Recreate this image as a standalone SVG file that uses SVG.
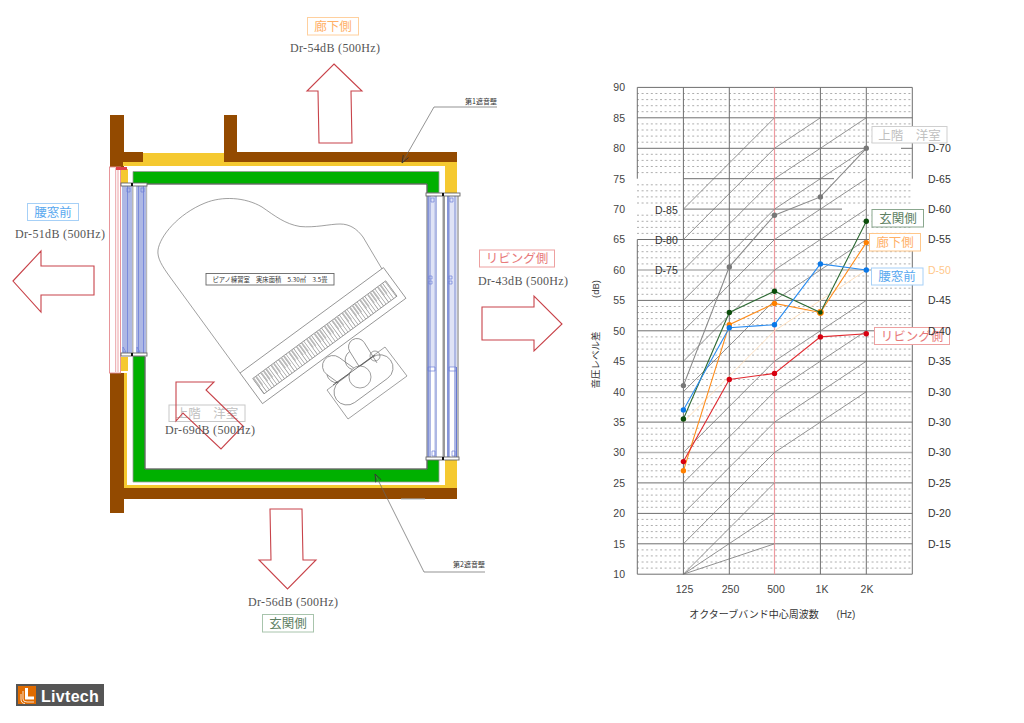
<svg xmlns="http://www.w3.org/2000/svg" width="1024" height="723" viewBox="0 0 1024 723">
<style>
text{font-family:"Noto Sans CJK JP","Liberation Sans",sans-serif}
.dr{font-family:"Liberation Serif",serif;font-size:12px;fill:#555}
.ax{font-family:"Liberation Sans",sans-serif;font-size:10.5px;fill:#444}
.ds{font-family:"Liberation Sans",sans-serif;font-size:10.5px;fill:#333}
.tag{font-size:12.5px;text-anchor:middle}
.note{font-size:7px;fill:#333}
.arrow{fill:#fff;stroke:#c8434a;stroke-width:1.1}
.brown{fill:#934a00}
.yellow{fill:#f5c930}
.green{fill:#00b000;stroke:#999;stroke-width:.8}
.glass{fill:#aeb8e4}
.blueln{stroke:#6d7fd8;stroke-width:.7;fill:none}
.cap{fill:#fff;stroke:#666;stroke-width:.9}
.grey{fill:#b8b8b8}
.pn{fill:none;stroke:#777;stroke-width:.7}
.pw{fill:#fff;stroke:#777;stroke-width:.7}
.lead{fill:none;stroke:#666;stroke-width:.7}
.gr{stroke:#6e6e6e;stroke-width:1;fill:none}
.grl{stroke:#b5b5b5;stroke-width:1.4;fill:none}
.dot{stroke:#999;stroke-width:.8;stroke-dasharray:2 2.600;fill:none}
.dg{stroke:#777;stroke-width:.8;fill:none}
.ser{fill:none;stroke-width:1.1}
</style>
<defs>
<marker id="ah" markerWidth="9" markerHeight="8" refX="8" refY="3.5" orient="auto" markerUnits="userSpaceOnUse"><path d="M0,0.5 L8,3.5 L0,6.5" fill="none" stroke="#333" stroke-width=".8"/></marker>
</defs>
<rect width="1024" height="723" fill="#fff"/>

<g id="building">
<rect class="brown" x="110" y="115" width="14" height="52"/>
<rect class="brown" x="124" y="152" width="19" height="10"/>
<rect class="yellow" x="123" y="162" width="334" height="4"/>
<rect class="yellow" x="143" y="153" width="81" height="10"/>
<rect class="brown" x="224" y="115" width="13" height="47"/>
<rect class="brown" x="237" y="152" width="220" height="10"/>
<rect class="yellow" x="445" y="162" width="12" height="31"/>
<rect class="yellow" x="121" y="169" width="7" height="14"/>
<rect class="yellow" x="121" y="357" width="7" height="14"/>
<rect class="yellow" x="124" y="373" width="3" height="113"/>
<rect class="yellow" x="124" y="485" width="333" height="3"/>
<rect class="yellow" x="445" y="460" width="12" height="26"/>
<rect class="brown" x="110" y="373" width="14" height="140"/>
<rect class="brown" x="110" y="488" width="347" height="11"/>
<path class="green" d="M133,171.500H439V193H427V184H133Z"/>
<path class="green" d="M133,356H145V469H427V458H439V482H133Z"/>
<path d="M145,357V469H427V459" fill="none" stroke="#555" stroke-width="1"/>
<path d="M133,184H427V193" fill="none" stroke="#555" stroke-width="1"/>
<path d="M401,499H425" stroke="#a8b8c8" stroke-width="1"/>
</g>

<g id="window-left">
<rect x="109.500" y="167" width="11" height="206" fill="#fff" stroke="#e58a90" stroke-width=".9"/>
<path d="M115.700,168V372M118,168V372" stroke="#e58a90" stroke-width=".8"/>
<rect x="116" y="167" width="11" height="3" fill="#e0404a"/>
<rect class="glass" x="122" y="186" width="10" height="167"/>
<rect class="glass" x="136" y="186" width="10" height="167"/>
<rect class="grey" x="132" y="186" width="1.500" height="167"/>
<rect class="grey" x="146" y="186" width="1.200" height="167"/>
<path d="M127.500,186V353M138.500,186V353M143.500,186V353" stroke="#6d7fd8" stroke-width=".8"/>
<path class="blueln" d="M127,188v4h3v-4zM141,188v4h3v-4zM123,352v-5l3,5zM137,352v-5l3,5z"/>
<rect class="cap" x="121" y="183" width="26" height="3"/>
<rect class="cap" x="121" y="353" width="26" height="3"/>
<rect x="131" y="183" width="2" height="3" fill="#111"/>
<rect x="131" y="353" width="2" height="3" fill="#111"/>
</g>

<g id="window-right">
<rect class="grey" x="426" y="196" width="2" height="261"/>
<rect class="glass" x="428" y="196" width="9" height="261"/>
<rect x="431" y="367" width="3.500" height="90" fill="#fff"/>
<rect x="431" y="196" width="3.500" height="171" fill="#dfe3f6"/>
<rect x="442.500" y="196" width="2.500" height="261" fill="#999"/>
<rect class="glass" x="447" y="196" width="9.500" height="261"/>
<rect x="450" y="367" width="4" height="90" fill="#fff"/>
<rect x="450" y="196" width="4" height="171" fill="#dfe3f6"/>
<rect class="grey" x="457" y="196" width="2" height="261"/>
<path d="M428,196V457M448,196V457M456.500,367V457" stroke="#4a5fc8" stroke-width=".8"/>
<path class="blueln" d="M429,276h3v3h-3zM429,281h3v3h-3zM449,276h3v3h-3zM449,281h3v3h-3zM428,367h7v4h-7zM449,367h7v4h-7zM431,198v4h3v-4zM450,198v4h3v-4zM432,456v-5h3v5zM452,456v-5h3v5z"/>
<rect class="cap" x="426" y="193" width="34" height="3"/>
<rect class="cap" x="426" y="457" width="33" height="3"/>
<rect x="442" y="193" width="2" height="3" fill="#111"/>
<rect x="442" y="457" width="2" height="3" fill="#111"/>
</g>

<g id="piano">
<path class="pn" d="M240,373L170,277C162,266 157,258 158,250C160,236 178,214 205,203C222,196 245,197 262,207C275,216 285,224 300,226.500C315,228 330,224 340,224C350,224 357,229 363,237L382,269"/>
<g transform="translate(240,373) rotate(-36.300)">
<rect class="pn" x="0" y="0" width="178" height="38"/>
<rect class="pn" x="7" y="12" width="165" height="19"/>
<line x1="7" y1="21.500" x2="172" y2="21.500" stroke="#8a8a8a" stroke-width="19" stroke-dasharray=".6 2.550"/>
<line x1="7" y1="17.500" x2="172" y2="17.500" stroke="#bbb" stroke-width="11" stroke-dasharray="1.600 1.550 1.600 4.700 1.600 1.550 1.600 1.550 1.600 4.700"/>
</g>
<polygon class="pn" points="385,347 407,376 348,419 327,390"/>
<g transform="translate(347,392) rotate(-36.300)"><path class="pn" d="M0,-13H41A13,13 0 0 1 41,13H0A13,13 0 0 1 0,-13Z"/></g>
<circle class="pn" cx="375" cy="356" r="5"/>
<g transform="translate(333,366) rotate(36)"><path class="pn" d="M0,-10.500H22M0,10.500H14A10.500,10.500 0 0 1 0,10.500A10.500,10.500 0 0 1 0,-10.500"/></g>
<g transform="translate(357,347) rotate(58)"><path class="pn" d="M0,-8.500H24M0,8.500H20A8.500,8.500 0 0 1 0,8.500A8.500,8.500 0 0 1 0,-8.500"/></g>
<circle class="pw" cx="360" cy="377" r="11"/>
<path class="pn" d="M333,385L375,355" style="stroke:#444"/>
</g>

<g id="room-label">
<rect x="206" y="273.500" width="128" height="11.500" fill="#fff" stroke="#666" stroke-width=".9"/>
<text x="270" y="282" text-anchor="middle" font-size="6.300" fill="#333">ピアノ練習室　実床面積　5.30㎡　3.5畳</text>
</g>

<g id="connectors">
<polyline class="lead" points="497,107 434,107 402,163" marker-end="url(#ah)"/>
<polyline class="lead" points="485,572 424,572 375,474" marker-end="url(#ah)"/>
</g>
<g id="note-wall1"><text class="note" x="465" y="103.500">第1遮音壁</text></g>
<g id="note-wall2"><text class="note" x="453" y="567">第2遮音壁</text></g>

<g id="side-corridor">
<rect x="307.500" y="17.500" width="51" height="17.500" fill="#fff" stroke="#ffd09e"/>
<text class="tag" x="333" y="31" fill="#ffb066">廊下側</text>
<text class="dr" x="290" y="52" textLength="90">Dr-54dB (500Hz)</text>
<polygon class="arrow" points="334,64 362,91 351,91 352,143 319,143 318,91 307,91"/>
</g>
<g id="side-window">
<rect x="27.500" y="203.500" width="51" height="17" fill="#fff" stroke="#a6d0f7"/>
<text class="tag" x="53" y="217" fill="#5aa9ef">腰窓前</text>
<text class="dr" x="15" y="238" textLength="90">Dr-51dB (500Hz)</text>
<polygon class="arrow" points="13,281 41,251 41,266 94,266 94,295 41,295 41,312"/>
</g>
<g id="side-living">
<rect x="479.500" y="250" width="75" height="17" fill="#fff" stroke="#eda0a0"/>
<text class="tag" x="517" y="263" fill="#e87a7a">リビング側</text>
<text class="dr" x="478" y="285" textLength="90">Dr-43dB (500Hz)</text>
<polygon class="arrow" points="482,307 534,307 534,296 562,324 534,351 534,340 482,340"/>
</g>
<g id="side-entrance">
<polygon class="arrow" points="270,509 302,509 303,560 316,560 287.500,589 259,560 271,560"/>
<text class="dr" x="248" y="606" textLength="90">Dr-56dB (500Hz)</text>
<rect x="262.500" y="614.500" width="51" height="17.500" fill="#fff" stroke="#a8c4ac"/>
<text class="tag" x="288" y="628" fill="#5d7f62">玄関側</text>
</g>
<g id="side-upstairs">
<rect x="169" y="405" width="76" height="16.500" fill="#fff" stroke="#c8c8c8"/>
<text class="tag" x="207" y="418" fill="#c0c0c0">上階　洋室</text>
<polygon class="arrow" points="176,382 214,382 206,390 243,426 221,449 183,413 176,421" style="fill:none"/>
<text class="dr" x="165" y="434" textLength="90">Dr-69dB (500Hz)</text>
</g>

<g id="chart-grid">
<path class="dot" d="M637,93.500H912M637,99.600H912M637,105.700H912M637,111.700H912M637,123.900H912M637,130H912M637,136.100H912M637,142.200H912M637,154.300H912M637,160.400H912M637,166.500H912M637,172.600H912M637,184.800H912M637,190.800H912M637,196.900H912M637,203H912M637,215.200H912M637,221.300H912M637,227.400H912M637,233.400H912M637,245.600H912M637,251.700H912M637,257.800H912M637,263.900H912M637,276H912M637,282.100H912M637,288.200H912M637,294.300H912M637,306.500H912M637,312.500H912M637,318.600H912M637,324.700H912M637,336.900H912M637,343H912M637,349.100H912M637,355.100H912M637,367.300H912M637,373.400H912M637,379.500H912M637,385.600H912M637,397.700H912M637,403.800H912M637,409.900H912M637,416H912M637,428.200H912M637,434.200H912M637,440.300H912M637,446.400H912M637,458.600H912M637,464.700H912M637,470.800H912M637,476.800H912M637,489H912M637,495.100H912M637,501.200H912M637,507.300H912M637,519.400H912M637,525.500H912M637,531.600H912M637,537.700H912M637,549.900H912M637,555.900H912M637,562H912M637,568.100H912"/>
<path class="gr" d="M637.300,87.400H912.300M637.300,117.800H912.300M637.300,148.300H866.300M901,148.300H912.300M683.400,178.700H834M683.400,209.100H842M637.300,239.500H912.300M637.300,300.400H912.300M637.300,330.800H912.300M637.300,361.200H912.300M637.300,422.100H912.300M637.300,482.900H912.300M637.300,513.400H912.300M637.300,543.800H912.300M637.300,574.200H912.300"/>
<path class="grl" d="M637.300,270H912.300M637.300,391.700H912.300M637.300,452.500H912.300"/>
<path class="gr" d="M637.300,87.400V178.700M637.300,239.500V574.200M683.400,87.400V574.200M729.300,87.400V574.200M820.400,87.400V574.200M866.300,87.400V574.200M912.300,87.400V178.700M912.300,239.500V574.200"/>
<path d="M774.500,87.400V574.200" stroke="#ee9a9f" stroke-width="1.200"/>
<path class="dg" d="M683.400,209.100L774.500,117.800M683.400,239.500L774.500,148.300L820.400,117.800M683.400,270L774.500,178.700L820.400,148.300L866.300,117.800M683.400,300.400L774.500,209.100L820.400,178.700L866.300,148.300M683.400,330.800L774.500,239.500L820.400,209.100L866.300,178.700M683.400,361.200L774.500,270L820.400,239.500L866.300,209.100M683.400,391.700L774.500,300.400L820.400,270L866.300,239.500M683.400,452.500L774.500,361.200L820.400,330.800L866.300,300.400M683.400,482.900L774.500,391.700L820.400,361.200L866.300,330.800M683.400,513.400L774.500,422.100L820.400,391.700L866.300,361.200M683.400,543.800L774.500,452.500L820.400,422.100L866.300,391.700M683.400,574.200L774.500,482.900M683.400,574.200L774.500,513.400M683.400,574.200L774.500,543.800"/>
<path d="M683.400,422.100L774.500,330.800L820.400,300.400L866.300,270" fill="none" stroke="#ffd9b0" stroke-width=".8"/>
</g>

<g id="chart-axis">
<g text-anchor="end">
<text class="ax" x="625" y="91">90</text><text class="ax" x="625" y="121.500">85</text><text class="ax" x="625" y="152">80</text><text class="ax" x="625" y="182.500">75</text><text class="ax" x="625" y="213">70</text><text class="ax" x="625" y="243">65</text><text class="ax" x="625" y="274">60</text><text class="ax" x="625" y="304">55</text><text class="ax" x="625" y="334.500">50</text><text class="ax" x="625" y="365">45</text><text class="ax" x="625" y="395.500">40</text><text class="ax" x="625" y="426">35</text><text class="ax" x="625" y="456">30</text><text class="ax" x="625" y="486.500">25</text><text class="ax" x="625" y="517">20</text><text class="ax" x="625" y="547.500">15</text><text class="ax" x="625" y="578">10</text>
</g>
<g text-anchor="middle">
<text class="ax" x="684.500" y="593">125</text><text class="ax" x="730.500" y="593">250</text><text class="ax" x="776" y="593">500</text><text class="ax" x="822" y="593">1K</text><text class="ax" x="867" y="593">2K</text>
</g>
<text x="754" y="618" font-size="10" text-anchor="middle" fill="#333">オクターブバンド中心周波数</text>
<text class="ax" x="846" y="618" text-anchor="middle" style="font-size:10px">(Hz)</text>
<text transform="translate(598.500,360) rotate(-90)" font-size="9.500" text-anchor="middle" fill="#333">音圧レベル差</text>
<text class="ax" transform="translate(598.500,289) rotate(-90)" text-anchor="middle" style="font-size:9.500px">(dB)</text>
</g>

<g id="series-upstairs">
<polyline class="ser" stroke="#8a8a8a" points="683.400,385.600 729.300,266.900 774.500,215.200 820.400,196.900 866.300,148.300"/>
<g fill="#777"><circle cx="683.400" cy="385.600" r="2.700"/><circle cx="729.300" cy="266.900" r="2.700"/><circle cx="774.500" cy="215.200" r="2.700"/><circle cx="820.400" cy="196.900" r="2.700"/><circle cx="866.300" cy="148.300" r="2.700"/></g>
</g>
<g id="series-corridor">
<polyline class="ser" stroke="#ff8c1a" points="683.400,470.800 729.300,324.700 774.500,303.400 820.400,312.500 866.300,242.600"/>
<g fill="#ff8000"><circle cx="683.400" cy="470.800" r="2.700"/><circle cx="729.300" cy="324.700" r="2.700"/><circle cx="774.500" cy="303.400" r="2.700"/><circle cx="820.400" cy="312.500" r="3.400"/><circle cx="866.300" cy="242.600" r="2.700"/></g>
</g>
<g id="series-entrance">
<polyline class="ser" stroke="#2f6b35" points="683.400,419 729.300,312.500 774.500,291.200 820.400,312.500 866.300,221.300"/>
<g fill="#0b4d0b"><circle cx="683.400" cy="419" r="2.700"/><circle cx="729.300" cy="312.500" r="2.700"/><circle cx="774.500" cy="291.200" r="2.700"/><circle cx="820.400" cy="312.500" r="2.300"/><circle cx="866.300" cy="221.300" r="2.700"/></g>
</g>
<g id="series-window">
<polyline class="ser" stroke="#2a8cf0" points="683.400,409.900 729.300,327.800 774.500,324.700 820.400,263.900 866.300,270"/>
<g fill="#0a78e8"><circle cx="683.400" cy="409.900" r="2.700"/><circle cx="729.300" cy="327.800" r="2.700"/><circle cx="774.500" cy="324.700" r="2.700"/><circle cx="820.400" cy="263.900" r="2.700"/><circle cx="866.300" cy="270" r="2.700"/></g>
</g>
<g id="series-living">
<polyline class="ser" stroke="#e02a30" points="683.400,461.600 729.300,379.500 774.500,373.400 820.400,336.900 866.300,333.800"/>
<g fill="#d80010"><circle cx="683.400" cy="461.600" r="2.700"/><circle cx="729.300" cy="379.500" r="2.700"/><circle cx="774.500" cy="373.400" r="2.700"/><circle cx="820.400" cy="336.900" r="2.700"/><circle cx="866.300" cy="333.800" r="2.700"/></g>
</g>

<g id="chart-tags">
<rect x="872" y="126.500" width="75" height="16.500" fill="#fff" stroke="#cfcfcf"/>
<text class="tag" x="909.500" y="140" fill="#c0c0c0">上階　洋室</text>
<rect x="872" y="209.500" width="51.500" height="17.500" fill="#fff" stroke="#8aa78e"/>
<text class="tag" x="898" y="223" fill="#5d7f62">玄関側</text>
<rect x="869.500" y="233.500" width="51" height="17.500" fill="#fff" stroke="#ffc78a"/>
<text class="tag" x="895" y="247" fill="#ffb066">廊下側</text>
<rect x="871.500" y="268" width="51.500" height="17" fill="#fff" stroke="#a6d0f7"/>
<text class="tag" x="897" y="281" fill="#5aa9ef">腰窓前</text>
<rect x="874.500" y="327.500" width="75" height="17" fill="#fff" stroke="#eda0a0"/>
<text class="tag" x="912" y="340.500" fill="#e87a7a">リビング側</text>
</g>

<g id="chart-d-labels">
<text class="ds" x="655" y="214">D-85</text><text class="ds" x="655" y="244">D-80</text><text class="ds" x="655" y="274">D-75</text>
<text class="ds" x="928" y="152">D-70</text><text class="ds" x="928" y="182.500">D-65</text><text class="ds" x="928" y="213">D-60</text><text class="ds" x="928" y="243">D-55</text><text class="ds" x="928" y="274" style="fill:#ffc78a">D-50</text><text class="ds" x="928" y="304">D-45</text><text class="ds" x="928" y="334.500">D-40</text><text class="ds" x="928" y="365">D-35</text><text class="ds" x="928" y="395.500">D-30</text><text class="ds" x="928" y="426">D-30</text><text class="ds" x="928" y="456">D-30</text><text class="ds" x="928" y="486.500">D-25</text><text class="ds" x="928" y="517">D-20</text><text class="ds" x="928" y="547.500">D-15</text>
</g>

<g id="logo">
<rect x="16" y="684" width="88" height="22" fill="#555"/>
<rect x="18" y="686" width="18" height="18" fill="#e06b00"/>
<path d="M26.500,688V698H34" fill="none" stroke="#fff" stroke-width="3"/>
<path d="M23,691V699Q23,702 27,702H34M21,694V699Q21,703.500 25,703.500" fill="none" stroke="#fff" stroke-width=".8"/>
<text x="41" y="702" font-size="16" font-weight="700" fill="#fff" letter-spacing=".3" style="font-family:'Liberation Sans',sans-serif">Livtech</text>
</g>
</svg>
